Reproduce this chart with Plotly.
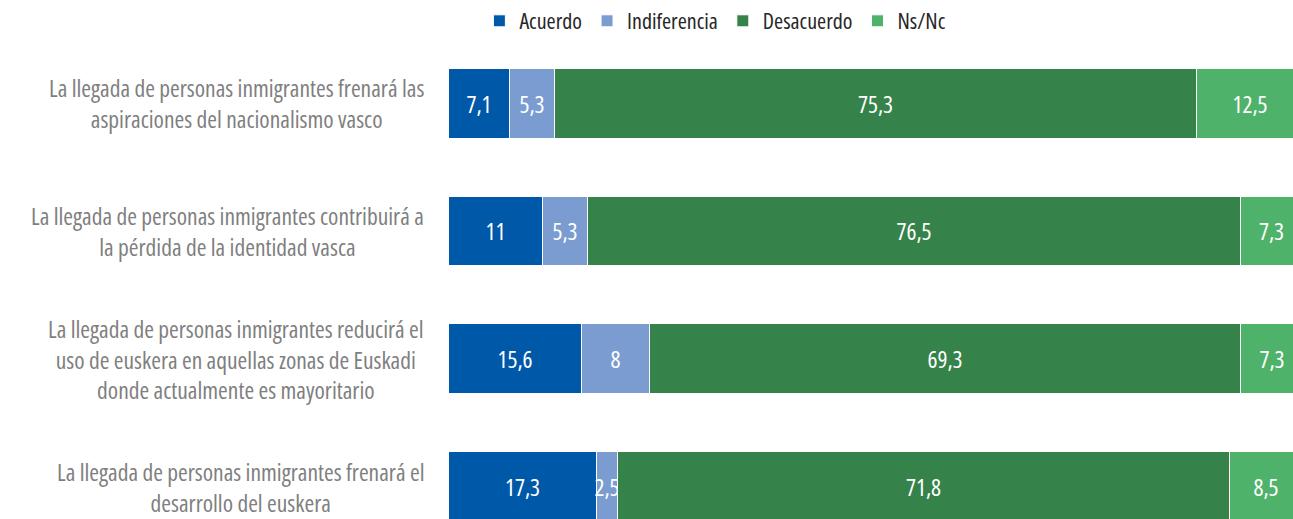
import plotly.graph_objects as go

categories = [
    "La llegada de personas inmigrantes frenará las<br>aspiraciones del nacionalismo vasco",
    "La llegada de personas inmigrantes contribuirá a<br>la pérdida de la identidad vasca",
    "La llegada de personas inmigrantes reducirá el<br>uso de euskera en aquellas zonas de Euskadi<br>donde actualmente es mayoritario",
    "La llegada de personas inmigrantes frenará el<br>desarrollo del euskera",
]
series_names = ["Acuerdo", "Indiferencia", "Desacuerdo", "Ns/Nc"]
acuerdo = [7.1, 11, 15.6, 17.3]
indiferencia = [5.3, 5.3, 8, 2.5]
desacuerdo = [75.3, 76.5, 69.3, 71.8]
nsnc = [12.5, 7.3, 7.3, 8.5]
colors = ["#0059A8", "#7A9CD1", "#35824A", "#4FB26A"]

FONT = "Open Sans"
LABEL_SIZE = 23.5
BAR_TEXT_SIZE = 23.5
LEGEND_SIZE = 22

fig = go.Figure()
for name, vals, col in zip(series_names, [acuerdo, indiferencia, desacuerdo, nsnc], colors):
    fig.add_trace(go.Bar(
        y=list(range(len(categories))), x=vals, name=name, orientation="h",
        marker=dict(color=col, line=dict(color="white", width=1)),
        width=0.546,
        text=[str(v).replace(".", ",") for v in vals],
        textposition="inside", insidetextanchor="middle", textangle=0,
        constraintext="none",
        textfont=dict(color="white", size=BAR_TEXT_SIZE, family=FONT),
        cliponaxis=True,
    ))

for i, c in enumerate(categories):
    fig.add_annotation(
        x=-0.027, xref="paper", y=i, yref="y", text=c, showarrow=False,
        xanchor="right", yanchor="middle", align="center",
        font=dict(size=LABEL_SIZE, color="#7F7F7F", family=FONT),
    )

fig.update_layout(
    barmode="stack",
    width=1293, height=519,
    margin=dict(l=449, r=0, t=40, b=0),
    plot_bgcolor="white", paper_bgcolor="white",
    font=dict(family=FONT, size=LABEL_SIZE, color="#222222"),
    xaxis=dict(range=[0, 98.95], visible=False, fixedrange=True),
    yaxis=dict(range=[3.249, -0.483], visible=False, fixedrange=True),
    legend=dict(orientation="h", x=0.036, xanchor="left", y=1.0, yanchor="bottom",
                font=dict(size=LEGEND_SIZE, color="#262626", family=FONT),
                itemwidth=30, traceorder="normal"),
    bargap=0,
)

post = (
    "var gd=document.getElementById('{plot_id}');"
    "var s=document.createElement('style');"
    "s.textContent='text{font-stretch:75% !important;}';"
    "document.head.appendChild(s);"
    "document.body.style.margin='0px';"
    "var d=JSON.parse(JSON.stringify(gd.data).split('\"Open Sans\"').join('\"Open Sans, sans-serif\"'));"
    "var l=JSON.parse(JSON.stringify(gd.layout).split('\"Open Sans\"').join('\"Open Sans, sans-serif\"'));"
    "Plotly.newPlot(gd,d,l,{displayModeBar:false});"
)
fig.write_html("out.html", config={"displayModeBar": False}, post_script=post)
